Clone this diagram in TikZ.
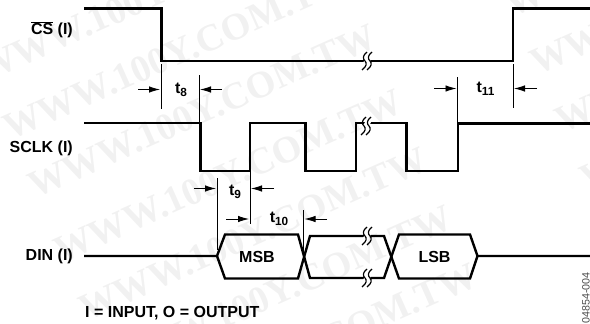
\documentclass[tikz,border=0pt]{standalone}
\usepackage{fontspec}
\setmainfont{Liberation Sans}
\newfontfamily\wmfont{Liberation Serif}
\usetikzlibrary{arrows.meta,positioning}

\definecolor{wmgray}{gray}{0.945}
\newcommand{\tmark}[1]{t\raisebox{-3pt}{\fontsize{11.8}{12}\selectfont #1}}
\tikzset{
  sig/.style={line width=2.4pt},
  tick/.style={line width=0.9pt},
  dim/.style={line width=0.9pt,-{Latex[length=11pt,width=6.5pt]}},
  lbl/.style={font=\fontsize{16}{17}\selectfont\bfseries,inner sep=0pt},
  wm/.style={font=\wmfont\fontsize{38}{38}\selectfont\bfseries,text=wmgray,rotate=24,inner sep=0pt},
  brk/.pic={
    \fill[white] (1,-8) -- (7,-8) -- (-1,8) -- (-7,8) -- cycle;
    \draw[line width=1.2pt] (5,-9) .. controls (0,-5) and (1,-2) .. (3,0) .. controls (5,2) and (5,5) .. (0,9);
    \draw[line width=1.2pt] (0,-9) .. controls (-5,-5) and (-4,-2) .. (-2,0) .. controls (0,2) and (0,5) .. (-5,9);
  },
}

\begin{document}
\begin{tikzpicture}[x=1pt,y=-1pt]
  \useasboundingbox (0,0) rectangle (590,324);

  % watermark
  \foreach \i/\wx/\wy in {1/152/-5,2/177/53,3/202/111,4/228/176,5/253/234,6/278/292,7/303/350,8/679/-70,9/704/-12,10/729/46,11/754/104}
    \node[wm] (wm\i) at (\wx,\wy) {WWW.100Y.COM.TW};

  % signal names
  \node[lbl,anchor=east] (cs) at (73,29.5) {$\overline{\mbox{CS}}$ (I)};
  \node[lbl,anchor=east] (sclk) at (73,148) {SCLK (I)};
  \node[lbl,anchor=east] (din) at (73,256.5) {DIN (I)};
  \node[lbl,anchor=west] (note) at (85,313) {I = INPUT, O = OUTPUT};

  % waveforms
  \draw[sig] (84,8.5) -- (161.5,8.5) -- (161.5,61) -- (513,61) -- (513,8.5) -- (590,8.5);
  \draw[sig] (84,123) -- (200.5,123) -- (200.5,171) -- (250,171) -- (250,123) -- (305.5,123) -- (305.5,171)
    -- (356,171) -- (356,123) -- (406.5,123) -- (406.5,171) -- (458,171) -- (458,123.5) -- (590,123.5);
  \draw[sig] (84,256) -- (217,256) -- (225,234.5) -- (298,234.5) -- (310,278) -- (384,278) -- (399,234.5)
    -- (470,234.5) -- (477.5,256) -- (590,256);
  \draw[sig] (217,256) -- (225,278.5) -- (298,278.5) -- (310,236) -- (384,236) -- (399,278.5)
    -- (470,278.5) -- (477.5,256);
  \node[lbl] (msb) at (257,257) {MSB};
  \node[lbl] (lsb) at (434.5,257) {LSB};

  % breaks
  \pic at (367,61) {brk};
  \pic at (366,126) {brk};
  \pic at (367,236) {brk};
  \pic at (367,278) {brk};

  % timing marks
  \draw[tick] (161,64) -- (161,109);
  \draw[tick] (199,75) -- (199,122);
  \draw[dim] (138,89.5) -- (160,89.5);
  \draw[dim] (222,89.5) -- (200,89.5);
  \node[lbl] (t8) at (181,90) {\tmark{8}};

  \draw[tick] (457.7,77) -- (457.7,123);
  \draw[tick] (513,64) -- (513,108);
  \draw[dim] (434,88.5) -- (456.5,88.5);
  \draw[dim] (537,88.5) -- (514,88.5);
  \node[lbl] (t11) at (485.5,89) {\tmark{11}};

  \draw[tick] (217,178) -- (217,250);
  \draw[tick] (250,172) -- (250,224);
  \draw[dim] (194,188.5) -- (216,188.5);
  \draw[dim] (274,188.5) -- (251,188.5);
  \node[lbl] (t9) at (235,192) {\tmark{9}};

  \draw[tick] (303.5,210) -- (303.5,255);
  \draw[dim] (226,219) -- (249,219);
  \draw[dim] (327,219) -- (304.5,219);
  \node[lbl] (t10) at (279,219) {\tmark{10}};

  \node[font=\fontsize{10.7}{11}\selectfont,text=black!70,rotate=90,inner sep=0pt] (fig) at (586,298) {04854-004};
\end{tikzpicture}
\end{document}
